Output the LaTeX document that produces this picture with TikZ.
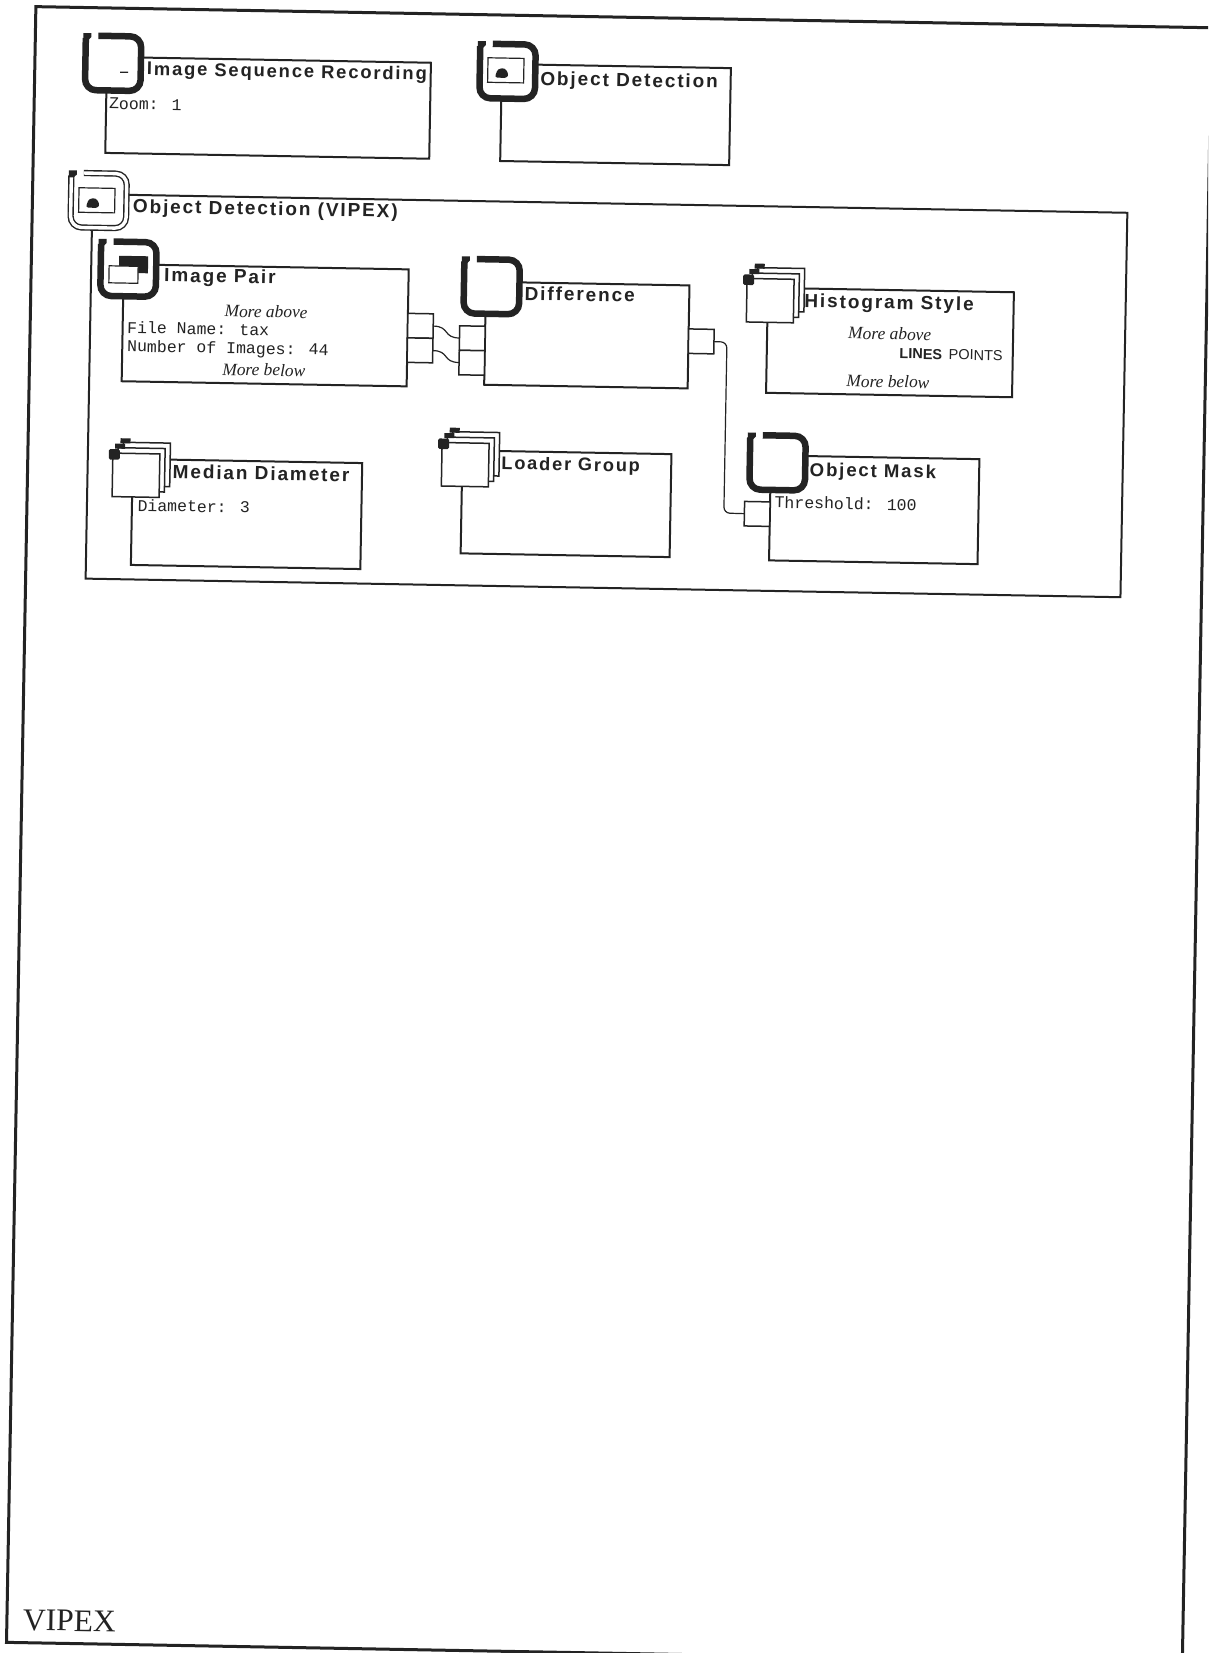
\documentclass[tikz,border=0pt]{standalone}
\usepackage{fontspec}
\usepackage{tikz}
\usetikzlibrary{positioning}
\newfontfamily\titlefont[LetterSpace=10]{Liberation Sans}
\newfontfamily\paramfont{Liberation Mono}
\newfontfamily\morefont{Liberation Serif}
\newfontfamily\choicefont{Liberation Sans}
\definecolor{ink}{RGB}{35,35,35}

% top left corner of a module icon: ring with a gap and a small tab
\newcommand{\ringicon}[3][ringthick]{
  \fill[white] (#2+2,#3+2) rectangle (#2+60,#3+59);
  \draw[#1] (#2+16,#3+3.5) -- (#2+59,#3+3.5) -- (#2+59,#3+58) -- (#2+3.5,#3+58) -- (#2+3.5,#3+6);
  \fill[ink] (#2+1,#3+1) -- (#2+9,#3+1) -- (#2+9,#3+5) -- (#2+6,#3+8) -- (#2+1,#3+8) -- cycle;
}
% picture inside a detection icon
\newcommand{\blobpic}[2]{
  \draw[ink, line width=1.2pt, fill=white] (#1,#2) rectangle +(36,24.5);
  \fill[ink, rounded corners=2.5pt] (#1+7,#2+19.5) -- (#1+10,#2+11) -- (#1+17,#2+10) -- (#1+21,#2+16) -- (#1+19,#2+20) -- cycle;
}
% stack of cards with tabs
\newcommand{\stackicon}[2]{
  \foreach \k in {2,1} {
    \draw[ink, line width=1.5pt, fill=white] (#1+5.2*\k,#2-5.5*\k) rectangle +(47,43.5);
    \fill[ink] (#1+5.2*\k-3,#2-5.5*\k-4) rectangle +(10,5);
  }
  \draw[ink, line width=1.5pt, fill=white] (#1,#2) rectangle +(47,43.5);
  \fill[ink, rounded corners=1.5pt] (#1-4,#2-4) rectangle +(11,10.5);
}

\begin{document}
\begin{tikzpicture}[
  x=1pt, y=-1pt,
  modbox/.style={draw=ink, line width=2pt, fill=white, inner sep=0pt, outer sep=0pt, anchor=north west},
  portbox/.style={draw=ink, line width=1.5pt, fill=white, inner sep=0pt, outer sep=0pt, anchor=north west, minimum width=25.5pt, minimum height=24.5pt},
  wire/.style={draw=ink, line width=1.2pt},
  ringthick/.style={draw=ink, line width=6.5pt, rounded corners=11pt},
  ringdouble/.style={draw=ink, line width=1.4pt, double=white, double distance=3.4pt, rounded corners=11pt},
  titletext/.style={font=\titlefont\bfseries\fontsize{19}{21}\selectfont, text=ink, inner sep=0pt, anchor=base west},
  paramtext/.style={font=\paramfont\fontsize{16.5}{18}\selectfont, text=ink, inner sep=0pt, anchor=base west},
  moretext/.style={font=\morefont\itshape\fontsize{17.4}{19}\selectfont, text=ink, inner sep=0pt, anchor=base west}
]
\clip (0,0) rectangle (1208,1653);
\begin{scope}[rotate=-1.03, transform shape]
% Page frame
\node[modbox, line width=3pt, minimum width=1176pt, minimum height=1636pt] (pageframe) at (36,6) {};
\node[font=\morefont\fontsize{31.5}{34}\selectfont, text=ink, inner sep=0pt, anchor=base west] (pagename) at (52,1629.6) {VIPEX};

% Upper row
\node[modbox, minimum width=324pt, minimum height=96pt] (seqbox) at (108,55) {};
\node[modbox, minimum width=229pt, minimum height=97pt] (detbox) at (503,55) {};
\ringicon{83}{30.5}
\draw[ink, line width=1.2pt] (121.5,70) -- (129.5,70);
\ringicon{477.5}{31.5}
\blobpic{489}{49}
\node[titletext] (seqtitle) at (148,72.3) {\fontsize{18.4}{20}\selectfont Image Sequence Recording};
\node[paramtext] (seqzoom) at (110.8,107) {Zoom: 1};
\node[titletext] (dettitle) at (541.5,75.3) {Object Detection};

% Group box
\node[modbox, minimum width=1035pt, minimum height=384.5pt] (vipexbox) at (96,192.5) {};
\ringicon[ringdouble]{71}{168}
\blobpic{82.4}{186.3}
\node[titletext] (vipextitle) at (136.5,210.3) {Object Detection (VIPEX)};

% Image pair
\node[modbox, minimum width=285pt, minimum height=117pt] (pairbox) at (128.5,262) {};
\ringicon{102}{236}
\fill[ink] (123.8,253.6) rectangle +(29,17);
\draw[ink, line width=1.2pt, fill=white] (113.9,263.8) rectangle +(29,17);
\node[titletext] (pairtitle) at (169,278.7) {Image Pair};
\node[moretext] (pairabove) at (230,312.7) {More above};
\node[paramtext] (pairfile) at (133,330.7) {File Name: tax};
\node[paramtext] (pairnum) at (133.3,349.4) {Number of Images: 44};
\node[moretext] (pairbelow) at (228.8,371) {More below};
\foreach \n/\v in {1/306, 2/330.5} {
  \node[portbox] (pairout\n) at (413.5,\v) {};
}

% Difference
\node[modbox, minimum width=203.5pt, minimum height=103pt] (diffbox) at (491,273) {};
\ringicon{465.5}{247}
\node[titletext] (difftitle) at (529.7,290.6) {Difference};
\foreach \n/\v in {1/317.5, 2/342} {
  \node[portbox] (diffin\n) at (465.5,\v) {};
}
\node[portbox] (diffout) at (694.5,316.5) {};

% Histogram style
\node[modbox, minimum width=246pt, minimum height=105pt] (histbox) at (773,274) {};
\stackicon{752}{265}
\node[titletext] (histtitle) at (809.5,293) {Histogram Style};
\node[moretext] (histabove) at (854,323.7) {More above};
\node[font=\choicefont\fontsize{14.5}{16}\selectfont, text=ink, inner sep=0pt, anchor=base west] (histchoice) at (905.5,342.5) {\textbf{LINES}\hspace{6.5pt}POINTS};
\node[moretext] (histbelow) at (853,371.5) {More below};

% Lower row
\node[modbox, minimum width=229.5pt, minimum height=106pt] (medbox) at (141,456.5) {};
\stackicon{121}{451}
\node[titletext] (medtitle) at (181,475.2) {Median Diameter};
\node[paramtext] (meddiam) at (146.5,508.5) {Diameter: 3};

\node[modbox, minimum width=209pt, minimum height=103pt] (loadbox) at (470.5,442) {};
\stackicon{450}{434.5}
\node[titletext] (loadtitle) at (509.5,460.3) {\fontsize{18.2}{20}\selectfont Loader Group};

\node[modbox, minimum width=208.5pt, minimum height=105pt] (maskbox) at (779,441.5) {};
\ringicon{754.5}{418}
\node[titletext] (masktitle) at (817.9,461.4) {\fontsize{18.6}{20}\selectfont Object Mask};
\node[paramtext] (maskthresh) at (783.4,494) {Threshold: 100};
\node[portbox] (maskin) at (753.5,488) {};

% Connectors
\foreach \n in {1,2} {
  \draw[wire] (pairout\n.east) .. controls +(17,0) and +(-17,0) .. (diffin\n.west);
}
\coordinate (wiretop) at (733,329);
\coordinate (wirelow) at (733,500);
\draw[wire, rounded corners=6pt] (diffout.east) -- (wiretop) -- (wirelow) -- (maskin.west);
\end{scope}
\end{tikzpicture}
\end{document}
